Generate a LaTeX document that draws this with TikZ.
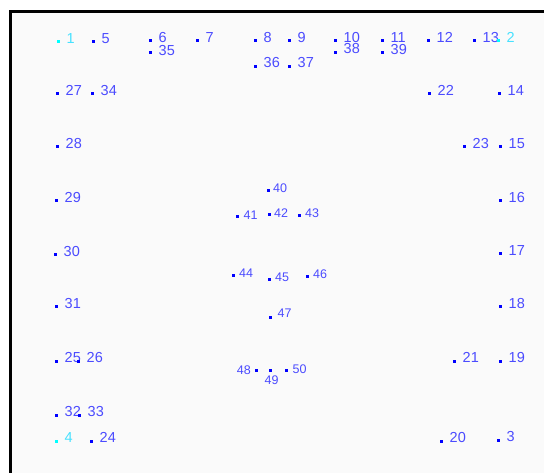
\documentclass[tikz,border=0pt]{standalone}
\usepackage{fontspec}
\setmainfont{Liberation Sans}
\definecolor{dotblue}{RGB}{0,0,255}
\definecolor{labblue}{RGB}{75,75,255}
\definecolor{dotcyan}{RGB}{0,255,255}
\definecolor{labcyan}{RGB}{70,225,255}
\definecolor{bgin}{RGB}{250,250,250}
\begin{document}
\begin{tikzpicture}[x=1pt,y=-1pt,
  dot/.style={fill=dotblue, inner sep=0pt, minimum size=3pt, shape=rectangle},
  cdot/.style={dot, fill=dotcyan},
  lab/.style={text=labblue, inner sep=0pt, anchor=west, font=\fontsize{14.5}{14.5}\selectfont},
  clab/.style={lab, text=labcyan},
  slab/.style={lab, font=\fontsize{12.5}{12.5}\selectfont}]
\useasboundingbox (0,0) rectangle (544,473);
\fill[white] (0,0) rectangle (544,473);
\fill[bgin] (10,11) rectangle (544,473);
\draw[line width=2.6pt, line join=miter] (10.3,473) -- (10.3,11.3) -- (544,11.3);
% main points: name/x/y/label vertical offset
\foreach \n/\x/\y/\dy in {5/93/42/3.5, 6/150/41/3.5, 35/150/53/2, 7/197/41/3.5, 8/255/41/3.5, 36/255/67/4,
  9/289/41/3.5, 37/289/67/4, 10/335/41/3, 38/335/53/4.5, 11/382/41/3, 39/382/53/3, 12/428/41/3.5, 13/474/41/3.5,
  27/57/94/3.5, 34/92/94/3.5, 22/429/94/3.5, 14/499/94/3.5, 28/57/147/3.5, 23/464/147/3.5, 15/500/147/3.5,
  29/56/201/3.5, 16/500/201/3.5, 30/55/255/3.5, 17/500/254/3.5, 31/56/307/3.5, 18/500/307/3.5,
  25/56/361/3.5, 26/78/361/3.5, 21/454/361/3.5, 19/500/361/3.5, 32/56/415/3.5, 33/79/415/3.5,
  24/91/441/3.5, 20/441/441/3.5, 3/498/440/3.5} {
  \node[dot] (p\n) at (\x,\y) {};
  \node[lab] (l\n) at ([xshift=8.5pt,yshift=\dy pt]p\n.center) {\n};
}
% cyan points
\foreach \n/\x/\y in {1/58/42, 2/498/41, 4/56/441} {
  \node[cdot] (p\n) at (\x,\y) {};
  \node[clab] (l\n) at ([xshift=8.5pt,yshift=3.5pt]p\n.center) {\n};
}
% inner small points
\foreach \n/\x/\y/\dx/\dy in {40/268/191/5/3, 41/237/217/6.5/1.5, 42/269/215/5/2, 43/299/216/6/3,
  44/233/276/6/3, 45/269/280/6/3, 46/307/277/6/3, 47/270/318/7.5/4.5, 50/286/370/6.5/1} {
  \node[dot] (p\n) at (\x,\y) {};
  \node[slab] (l\n) at ([xshift=\dx pt,yshift=\dy pt]p\n.center) {\n};
}
\node[dot] (p48) at (256,370) {};
\node[slab, anchor=east] (l48) at ([xshift=-5pt]p48.center) {48};
\node[dot] (p49) at (270,370) {};
\node[slab, anchor=north] (l49) at ([xshift=1.5pt,yshift=-5.5pt]p49.center) {49};
\end{tikzpicture}
\end{document}
